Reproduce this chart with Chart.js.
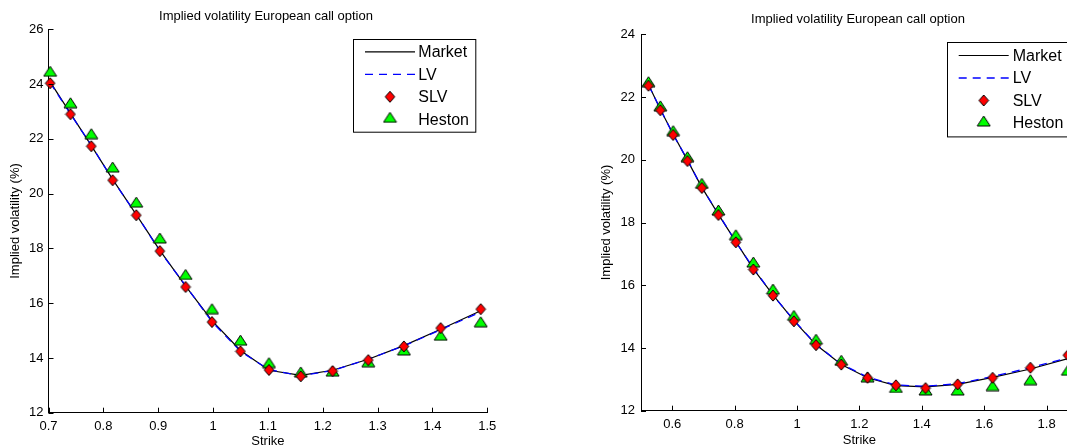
<!DOCTYPE html>
<html><head><meta charset="utf-8">
<script src="https://cdn.jsdelivr.net/npm/chart.js@4.4.1/dist/chart.umd.min.js"></script>
<style>
html,body{margin:0;padding:0;overflow:hidden;background:#fff;width:1067px;height:446px;position:relative;}
canvas{position:absolute;top:0;}
#c1{left:0px}
#c2{left:592px}
</style></head><body>
<canvas id="c1" width="532" height="460"></canvas>
<canvas id="c2" width="532" height="460"></canvas>
<script>
// ---- text ----
const seriesNames = ['Market', 'LV', 'SLV', 'Heston'];
const titleText = 'Implied volatility European call option';
const xTitle = 'Strike';
const yTitle = 'Implied volatility (%)';

// ---- left panel data ----
const strikeL = [0.703, 0.740, 0.778, 0.817, 0.860, 0.903, 0.950, 0.998, 1.050, 1.102, 1.160, 1.218, 1.283, 1.348, 1.415, 1.488];
const marketL = [24.08, 22.93, 21.75, 20.52, 19.23, 17.93, 16.62, 15.36, 14.27, 13.55, 13.36, 13.55, 13.95, 14.45, 15.05, 15.72];
const lvL     = [24.05, 22.91, 21.77, 20.50, 19.25, 17.90, 16.64, 15.32, 14.24, 13.57, 13.35, 13.54, 13.96, 14.44, 15.03, 15.68];
const slvL    = [24.03, 22.90, 21.73, 20.49, 19.21, 17.90, 16.59, 15.31, 14.24, 13.56, 13.33, 13.52, 13.92, 14.42, 15.09, 15.78];
const hestonL = [24.47, 23.32, 22.19, 20.97, 19.69, 18.38, 17.05, 15.80, 14.65, 13.83, 13.49, 13.52, 13.86, 14.29, 14.83, 15.32];
const xTicksL = [0.7, 0.8, 0.9, 1, 1.1, 1.2, 1.3, 1.4, 1.5];
const yTicksL = [12, 14, 16, 18, 20, 22, 24, 26];

// ---- right panel data ----
const strikeR = [0.524, 0.562, 0.603, 0.649, 0.695, 0.748, 0.804, 0.860, 0.923, 0.990, 1.061, 1.142, 1.226, 1.317, 1.412, 1.515, 1.627, 1.748, 1.868];
const marketR = [22.40, 21.60, 20.82, 19.98, 19.12, 18.26, 17.39, 16.52, 15.69, 14.87, 14.10, 13.47, 13.05, 12.80, 12.76, 12.84, 13.06, 13.33, 13.66];
const lvR     = [22.38, 21.62, 20.80, 20.00, 19.11, 18.28, 17.38, 16.55, 15.68, 14.89, 14.11, 13.49, 13.07, 12.82, 12.78, 12.86, 13.09, 13.37, 13.68];
const slvR    = [22.36, 21.58, 20.79, 19.96, 19.10, 18.24, 17.37, 16.50, 15.67, 14.85, 14.09, 13.47, 13.05, 12.81, 12.72, 12.84, 13.05, 13.37, 13.77];
const hestonR = [22.49, 21.72, 20.93, 20.10, 19.25, 18.40, 17.61, 16.74, 15.88, 15.04, 14.28, 13.61, 13.08, 12.74, 12.66, 12.66, 12.80, 12.99, 13.29];
const xTicksR = [0.6, 0.8, 1, 1.2, 1.4, 1.6, 1.8];
const yTicksR = [12, 14, 16, 18, 20, 22, 24];

Chart.defaults.font.family = '"Liberation Sans", Arial, Helvetica, sans-serif';
Chart.defaults.color = '#000';

// MATLAB-like markers, centred on their bounding box
function markerCanvas(w, h, verts, fill) {
  const c = document.createElement('canvas');
  c.width = w; c.height = h;
  const x = c.getContext('2d');
  x.beginPath();
  verts.forEach((p, i) => i ? x.lineTo(p[0], p[1]) : x.moveTo(p[0], p[1]));
  x.closePath();
  x.fillStyle = fill; x.fill();
  x.strokeStyle = '#000'; x.lineWidth = 1; x.lineJoin = 'miter'; x.stroke();
  return c;
}
const diamondImg = markerCanvas(12, 13, [[6, 1], [10.8, 6.5], [6, 12], [1.2, 6.5]], '#ff0000');
const triangleImg = markerCanvas(15, 12, [[7.5, 1], [14, 11], [1, 11]], '#00ff00');

const inwardTicks = {
  id: 'inwardTicks',
  afterDatasetsDraw(chart, args, o) {
    const {ctx, chartArea: a, scales: {x, y}} = chart;
    ctx.save();
    ctx.strokeStyle = '#000'; ctx.lineWidth = 1; ctx.setLineDash([]);
    ctx.beginPath();
    x.ticks.forEach(t => { const p = Math.round(x.getPixelForValue(t.value)) + 0.5; ctx.moveTo(p, a.bottom); ctx.lineTo(p, a.bottom - o.len); });
    y.ticks.forEach(t => { const p = Math.round(y.getPixelForValue(t.value)) + 0.5; ctx.moveTo(a.left, p); ctx.lineTo(a.left + o.len, p); });
    ctx.stroke();
    ctx.restore();
  }
};

const boxLegend = {
  id: 'boxLegend',
  afterDraw(chart, args, o) {
    const ctx = chart.ctx;
    ctx.save();
    ctx.fillStyle = '#fff';
    ctx.fillRect(o.left, o.top, o.width, o.height);
    ctx.strokeStyle = '#000'; ctx.lineWidth = 1; ctx.setLineDash([]);
    ctx.strokeRect(Math.round(o.left) + 0.5, Math.round(o.top) + 0.5, o.width, o.height);
    const byLabel = {};
    chart.data.datasets.forEach(d => byLabel[d.label] = d);
    seriesNames.forEach((name, i) => {
      const d = byLabel[name];
      const y = o.top + o.firstRow + i * o.rowH;
      if (d.showLine) {
        ctx.strokeStyle = d.borderColor; ctx.lineWidth = d.borderWidth;
        ctx.setLineDash(d.borderDash || []);
        ctx.beginPath(); ctx.moveTo(o.left + o.sx1, y - 1); ctx.lineTo(o.left + o.sx2, y - 1); ctx.stroke();
        ctx.setLineDash([]);
      } else {
        const dy = d.label === 'Heston' ? -3 : -1;
        Chart.helpers.drawPoint(ctx, {pointStyle: d.pointStyle, rotation: 0, radius: 6, borderWidth: 0}, o.left + (o.sx1 + o.sx2) / 2, y + dy);
      }
      ctx.fillStyle = '#000';
      ctx.font = '16px "Liberation Sans", Arial, Helvetica, sans-serif';
      ctx.textBaseline = 'middle'; ctx.textAlign = 'left';
      ctx.fillText(name, o.left + o.tx, y);
    });
    ctx.restore();
  }
};

function pts(xs, ys) { return xs.map((v, i) => ({x: v, y: ys[i]})); }

function makeChart(id, g, strikes, market, lv, slv, heston, xTicks, yTicks) {
  return new Chart(document.getElementById(id), {
    type: 'line',
    data: {
      datasets: [
        {label: 'Market', data: pts(strikes, market), borderColor: '#000', borderWidth: 1.2, pointRadius: 0, showLine: true, fill: false, tension: 0, order: 4, clip: false, yAxisID: 'y'},
        {label: 'LV', data: pts(strikes, lv), borderColor: '#0000ff', borderWidth: 1.3, borderDash: [8, 6], pointRadius: 0, showLine: true, fill: false, tension: 0, order: 3, clip: false, yAxisID: 'y'},
        {label: 'SLV', data: pts(strikes, slv), showLine: false, pointStyle: diamondImg, pointRadius: 6, order: 1, clip: false, yAxisID: 'y'},
        {label: 'Heston', data: pts(strikes, heston), showLine: false, pointStyle: triangleImg, pointRadius: 7, order: 2, clip: false, yAxisID: 'y'}
      ]
    },
    options: {
      responsive: false, animation: false, events: [],
      layout: {padding: 0},
      plugins: {
        legend: {display: false}, tooltip: {enabled: false},
        title: {display: true, text: titleText, font: {size: 13, weight: 'normal'}, color: '#000', padding: {top: g.titleTop, bottom: g.titleBottom}},
        inwardTicks: {len: 5},
        boxLegend: g.legend
      },
      scales: {
        x: {
          type: 'linear', min: g.xmin, max: g.xmax,
          afterBuildTicks: s => { s.ticks = xTicks.map(v => ({value: v})); },
          afterFit: s => { s.height = g.xh; },
          ticks: {callback: v => String(v), font: {size: 13}, color: '#000', padding: g.xpad, maxRotation: 0, autoSkip: false},
          grid: {display: false, drawTicks: false},
          border: {display: true, color: '#000', width: 1},
          title: {display: true, text: xTitle, font: {size: 13}, color: '#000', padding: {top: 0, bottom: g.xtitlePad}}
        },
        y: {
          type: 'linear', position: 'left', min: g.ymin, max: g.ymax,
          afterBuildTicks: s => { s.ticks = yTicks.map(v => ({value: v})); },
          afterFit: s => { s.width = g.yw; },
          ticks: {callback: v => String(v), font: {size: 13}, color: '#000', padding: g.ypad, autoSkip: false},
          grid: {display: false, drawTicks: false},
          border: {display: true, color: '#000', width: 1},
          title: {display: true, text: yTitle, font: {size: 13}, color: '#000', padding: {top: g.ytitlePad, bottom: 0}}
        },
        yR: {
          type: 'linear', position: 'right', display: true,
          afterFit: s => { s.width = g.rw; },
          ticks: {display: false}, grid: {display: false, drawTicks: false}, border: {display: false}
        }
      }
    },
    plugins: [inwardTicks, boxLegend]
  });
}

makeChart('c1', {
  titleTop: 8.9, titleBottom: 4.8, xmin: 0.7, xmax: 1.5, ymin: 12, ymax: 26,
  xh: 47.3, xpad: 6, xtitlePad: 10.5, yw: 48.5, ypad: 5, ytitlePad: 7.2, rw: 44.7,
  legend: {left: 352.7, top: 39, width: 122.3, height: 92.7, firstRow: 13.8, rowH: 22.5, sx1: 12.3, sx2: 62.3, tx: 65.6}
}, strikeL, marketL, lvL, slvL, hestonL, xTicksL, yTicksL);

makeChart('c2', {
  titleTop: 11.5, titleBottom: 7.2, xmin: 0.5, xmax: 1.9, ymin: 12, ymax: 24,
  xh: 49.3, xpad: 5.5, xtitlePad: 11.5, yw: 49, ypad: 6, ytitlePad: 6.2, rw: 46.2,
  legend: {left: 354.7, top: 42.3, width: 122.3, height: 94.4, firstRow: 14.2, rowH: 22.5, sx1: 12, sx2: 62, tx: 66}
}, strikeR, marketR, lvR, slvR, hestonR, xTicksR, yTicksR);
</script>
</body></html>
